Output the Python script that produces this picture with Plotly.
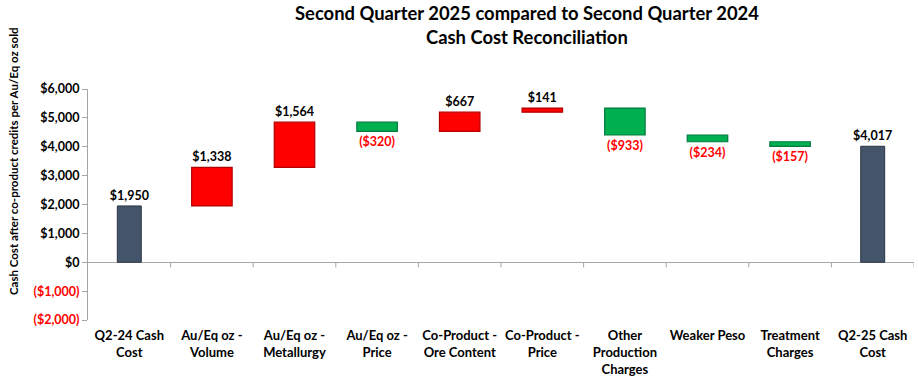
import numpy as np
import plotly.graph_objects as go

categories = ["Q2-24 Cash<br>Cost", "Au/Eq oz -<br>Volume", "Au/Eq oz -<br>Metallurgy",
              "Au/Eq oz -<br>Price", "Co-Product -<br>Ore Content", "Co-Product -<br>Price",
              "Other<br>Production<br>Charges", "Weaker Peso", "Treatment<br>Charges",
              "Q2-25 Cash<br>Cost"]
start_value = 1950
changes = [1338, 1564, -320, 667, 141, -933, -234, -157]
end_value = 4017
y_ticks = [-2000, -1000, 0, 1000, 2000, 3000, 4000, 5000, 6000]
title_lines = ["Second Quarter 2025 compared to Second Quarter 2024", "Cash Cost Reconciliation"]

FONT = "Lato"
RED = "#FF0000"
GREEN = "#00B050"
NAVY = "#44546A"
NEG_TXT = "#FF0000"

# plot area in window pixels
L, R, T, B = 88, 914, 89, 320
W, H = 918, 390
PH = B - T
PW = R - L

def money(v):
    return f"${v:,.0f}" if v >= 0 else f"(${-v:,.0f})"

def py(px):  # window pixel y -> paper y
    return (B - px) / PH

def px_(pxx):  # window pixel x -> paper x
    return (pxx - L) / PW

x_idx = np.arange(len(categories))
running = start_value + np.concatenate([[0], np.cumsum(changes)[:-1]])
chg = np.array(changes)
inc_mask = chg > 0
dec_mask = chg < 0
chg_x = x_idx[1:-1]

lbl_font = dict(family=FONT, size=12.5, color="#000000")

fig = go.Figure()
# totals
fig.add_trace(go.Bar(
    x=[x_idx[0], x_idx[-1]], y=[start_value, end_value], width=0.29,
    marker=dict(color=NAVY, line=dict(color="#2A3442", width=1)),
    text=[f"<b>{money(start_value)}</b>", f"<b>{money(end_value)}</b>"], textposition="outside",
    textfont=lbl_font, cliponaxis=False, constraintext="none",
))
# increases
fig.add_trace(go.Bar(
    x=chg_x[inc_mask], y=chg[inc_mask], base=running[inc_mask], width=0.49,
    marker=dict(color=RED, line=dict(color="#B00000", width=1.2)),
    text=[f"<b>{money(v)}</b>" for v in chg[inc_mask]], textposition="outside",
    textfont=lbl_font, cliponaxis=False, constraintext="none",
))
# decreases
fig.add_trace(go.Bar(
    x=chg_x[dec_mask], y=chg[dec_mask], base=running[dec_mask], width=0.49,
    marker=dict(color=GREEN, line=dict(color="#007A3D", width=1.2)),
    text=[f"<b>{money(v)}</b>" for v in chg[dec_mask]], textposition="outside",
    textfont=dict(family=FONT, size=12.5, color=NEG_TXT), cliponaxis=False, constraintext="none",
))

tick_text = [f"<span style='color:{NEG_TXT}'>{money(v)}</span>" if v < 0 else money(v) for v in y_ticks]

shapes = [dict(type="line", xref="x", yref="y", x0=b, x1=b, y0=0, y1=-180,
               line=dict(color="#A6A6A6", width=1)) for b in np.arange(len(categories)) + 0.5]

annotations = [dict(text="<b>Cash Cost after co-product credits per Au/Eq oz sold</b>",
                    xref="paper", yref="paper", x=px_(13), y=py(161),
                    textangle=-90, showarrow=False, xanchor="center", yanchor="middle",
                    font=dict(family=FONT, size=11.5, color="#000000"))]
for i, line in enumerate(title_lines):
    annotations.append(dict(text=f"<b>{line}</b>", xref="paper", yref="paper",
                            x=px_(527), y=py(13 + 24 * i), showarrow=False,
                            xanchor="center", yanchor="middle",
                            font=dict(family=FONT, size=18.4, color="#000000")))

fig.update_layout(
    width=W, height=H,
    margin=dict(l=L, r=W - R, t=T, b=H - B, autoexpand=False),
    paper_bgcolor="white", plot_bgcolor="white",
    barmode="overlay", showlegend=False,
    font=dict(family=FONT, color="#000000"),
    xaxis=dict(tickmode="array", tickvals=list(x_idx), ticktext=[f"<b>{c}</b>" for c in categories],
               range=[-0.5, len(categories) - 0.5], showgrid=False, showline=False, ticks="",
               tickfont=dict(family=FONT, size=13, color="#000000"), ticklabelstandoff=6,
               automargin=False),
    yaxis=dict(range=[-2000, 6000], tickvals=y_ticks, ticktext=[f"<b>{t}</b>" for t in tick_text],
               showgrid=False, showline=True, linecolor="#A6A6A6", linewidth=1,
               ticks="outside", ticklen=5, tickcolor="#A6A6A6",
               zeroline=True, zerolinecolor="#A6A6A6", zerolinewidth=1,
               tickfont=dict(family=FONT, size=12.5, color="#000000"), automargin=False),
    shapes=shapes,
    annotations=annotations,
)

fig.write_html("out.html", config={"displayModeBar": False},
               post_script="document.body.style.margin='0';")
